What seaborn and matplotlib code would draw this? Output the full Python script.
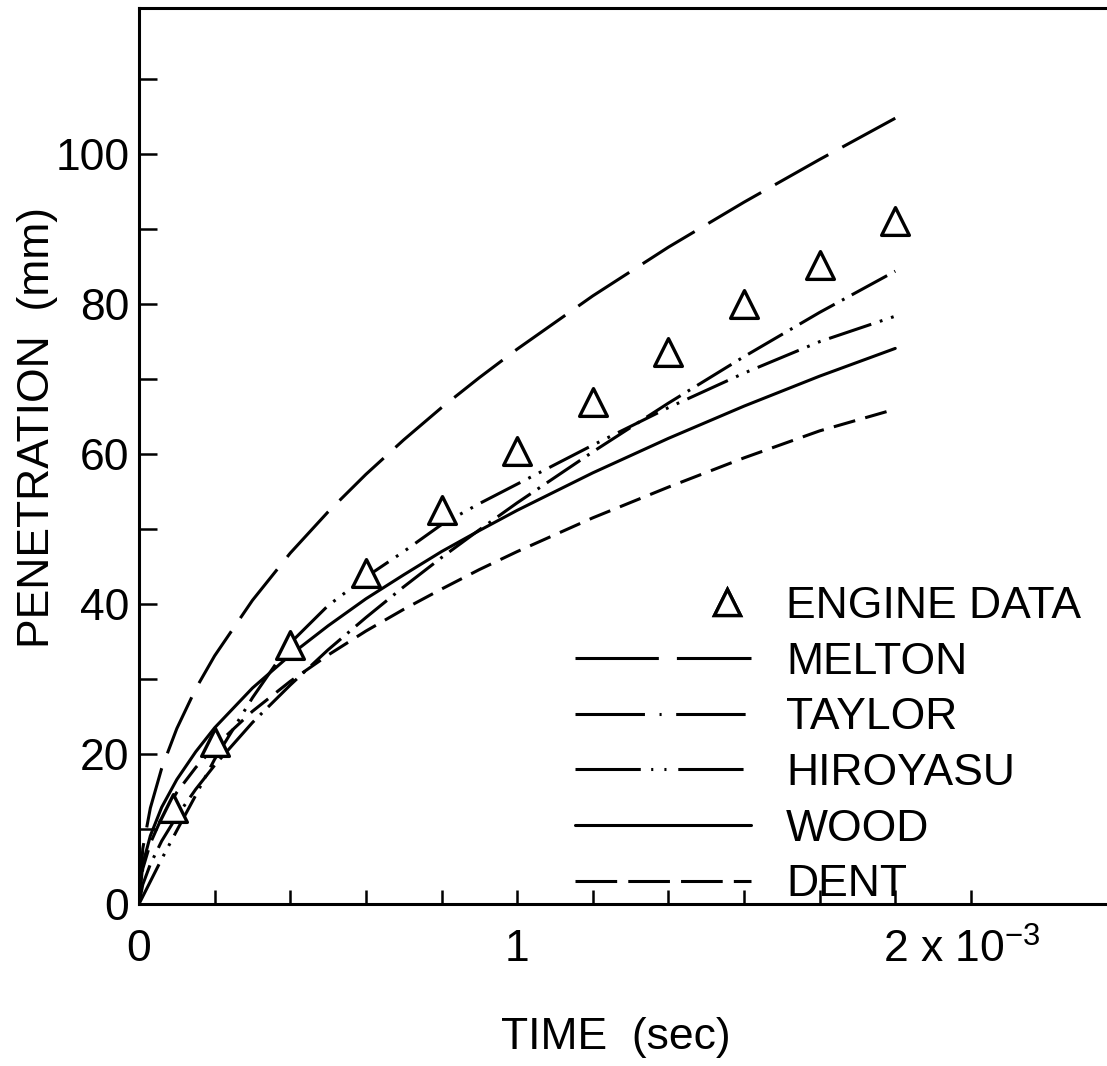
import numpy as np
import matplotlib
matplotlib.use("Agg")
import matplotlib.pyplot as plt
import matplotlib.transforms as mtransforms
import seaborn as sns
from matplotlib import font_manager
from matplotlib.lines import Line2D
from matplotlib.legend_handler import HandlerLine2D

# time in ms (axis is labelled in sec x 10^-3), penetration in mm
time_ms = [0, 0.01, 0.03, 0.06, 0.1, 0.15, 0.2, 0.3, 0.4, 0.5,
           0.6, 0.7, 0.8, 0.9, 1.0, 1.2, 1.4, 1.6, 1.8, 2.0]
melton = [0, 7.4, 12.8, 18.1, 23.4, 28.7, 33.1, 40.5, 46.8, 52.3,
          57.3, 61.9, 66.2, 70.2, 74.0, 81.1, 87.6, 93.6, 99.3, 104.8]
taylor = [0, 2.6, 5.3, 8.4, 11.7, 15.3, 18.5, 24.2, 29.2, 33.9,
          38.2, 42.3, 46.2, 49.9, 53.5, 60.3, 66.8, 73.0, 78.9, 84.4]
hiroyasu = [0, 1.0, 3.0, 6.0, 9.8, 14.5, 19.3, 27.5, 34.8, 39.8,
            43.6, 47.0, 50.6, 53.4, 56.0, 61.2, 66.2, 70.8, 75.0, 78.4]
wood = [0, 5.3, 9.1, 12.9, 16.6, 20.3, 23.5, 28.8, 33.2, 37.1,
        40.7, 43.9, 47.0, 49.8, 52.5, 57.5, 62.1, 66.4, 70.4, 74.1]
dent = [0, 4.7, 8.1, 11.5, 14.9, 18.2, 21.0, 25.7, 29.7, 33.2,
        36.4, 39.3, 42.0, 44.6, 47.0, 51.5, 55.6, 59.5, 63.1, 66.0]

engine_time = [0.09, 0.2, 0.4, 0.6, 0.8, 1.0, 1.2, 1.4, 1.6, 1.8, 2.0]
engine_pen = [12.8, 21.6, 34.5, 44.1, 52.5, 60.4, 67.0, 73.6, 80.0, 85.2, 91.1]

series_names = ["MELTON", "TAYLOR", "HIROYASU", "WOOD", "DENT"]
series_values = [melton, taylor, hiroyasu, wood, dent]
# dash patterns (points) on the curves
series_styles = [
    (0, (44, 11.5)),
    (0, (29, 6, 2, 6)),
    (0, (32, 6.5, 2, 6.5, 2, 6.5)),
    "solid",
    (0, (16, 7.5)),
]
# the legend samples are drawn with longer dashes in the original
legend_styles = [
    (0, (60, 13)),
    (0, (50, 10.5, 1.5, 10.5)),
    (0, (47, 7.5, 1.5, 8, 1.5, 8.5)),
    "solid",
    (0, (30, 8)),
]

sns.set_style("ticks")


def pick_font():
    for name in ["Liberation Sans Narrow", "Liberation Sans", "DejaVu Sans"]:
        try:
            font_manager.findfont(font_manager.FontProperties(family=name),
                                  fallback_to_default=False)
            return name
        except Exception:
            pass
    return "DejaVu Sans"


font_name = pick_font()
plt.rcParams["font.family"] = [font_name, "DejaVu Sans"]
plt.rcParams["mathtext.fontset"] = "custom"
plt.rcParams["mathtext.rm"] = font_name
plt.rcParams["lines.scale_dashes"] = False
for key in ["text.color", "axes.labelcolor", "xtick.color", "ytick.color"]:
    plt.rcParams[key] = "black"


class RightMarkerHandler(HandlerLine2D):
    """Put the legend marker near the right end of the sample."""
    def get_xdata(self, legend, xdescent, ydescent, width, height, fontsize):
        xm = -xdescent + 0.865 * width
        return np.array([xm, xm]), np.array([xm, xm])


fig = plt.figure(figsize=(11.07, 10.66), dpi=100)
ax = fig.add_axes([139 / 1107, 1 - 904 / 1066, 1 - 139 / 1107, (904 - 8) / 1066])

lw = 2.2
for name, vals, ls in zip(series_names, series_values, series_styles):
    sns.lineplot(x=time_ms, y=vals, ax=ax, color="black", linewidth=lw,
                 linestyle=ls, sort=False, estimator=None)

sns.scatterplot(x=engine_time, y=engine_pen, ax=ax, marker="^", s=20 ** 2,
                facecolor="white", edgecolor="black", linewidth=2.4, zorder=5)

ax.set_xlim(0, 2.56)
ax.set_ylim(0, 119.5)

ax.set_xticks(np.arange(0, 2.21, 0.2))
ax.set_xticklabels(["0", "", "", "", "", "1", "", "", "", "",
                    r"2 x 10$^{-3}$", ""])
ax.set_yticks(np.arange(0, 111, 10))
ax.set_yticklabels(["0", "", "20", "", "40", "", "60", "", "80", "", "100", ""])

ax.tick_params(axis="x", direction="in", length=10, width=1.8, pad=18,
               labelsize=32)
ax.tick_params(axis="y", direction="in", length=13, width=1.8, pad=7,
               labelsize=32)

# move the "2 x 10^-3" label so that the 2 sits on its tick
lbl = ax.get_xticklabels()[10]
lbl.set_horizontalalignment("left")
lbl.set_transform(lbl.get_transform() +
                  mtransforms.ScaledTranslation(-12 / 100, 0, fig.dpi_scale_trans))

for side in ["left", "bottom", "top"]:
    ax.spines[side].set_linewidth(2.2)
    ax.spines[side].set_color("black")
ax.spines["right"].set_visible(False)

ax.set_xlabel("TIME  (sec)", fontsize=32, va="center")
ax.set_ylabel("PENETRATION  (mm)", fontsize=32, va="center")
ax.xaxis.set_label_coords((616 - 139) / 968, (904 - 1038) / 896)
ax.yaxis.set_label_coords((38 - 139) / 968, (904 - 428) / 896)

handles = [Line2D([], [], linestyle="none", marker="^", markersize=19,
                  markerfacecolor="white", markeredgecolor="black",
                  markeredgewidth=2.4)]
for ls in legend_styles:
    handles.append(Line2D([], [], color="black", linewidth=lw, linestyle=ls))
labels = ["ENGINE DATA"] + series_names

leg = ax.legend(handles, labels, loc="upper left",
                bbox_to_anchor=(575 / 1107, 1 - 586 / 1066),
                bbox_transform=fig.transFigure, frameon=False,
                fontsize=32, handlelength=3.96, handletextpad=0.79,
                labelspacing=0.33, borderpad=0, borderaxespad=0,
                handler_map={handles[0]: RightMarkerHandler(numpoints=2)})

fig.savefig("out.png", dpi=100, facecolor="white")
